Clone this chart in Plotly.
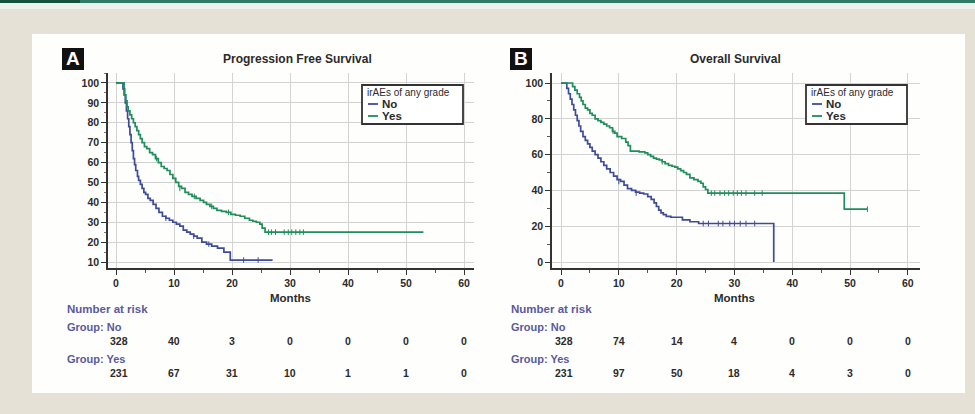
import plotly.graph_objects as go

W, H = 975, 414
def px(x): return x / W
def py(y): return 1 - y / H

# ---------------- data ----------------
month_ticks = [0, 10, 20, 30, 40, 50, 60]

# Progression free survival, irAEs = No
pfs_no_t = [0, 1.2, 1.4, 1.6, 1.8, 2.0, 2.2, 2.4, 2.6, 2.8, 3.0, 3.2, 3.4, 3.7, 3.9, 4.2, 4.5, 4.8,
            5.1, 5.5, 5.9, 6.4, 6.9, 7.4, 8.0, 8.6, 9.2, 9.8, 10.4, 11.0, 11.6, 12.2, 12.8, 13.4,
            14.0, 14.8, 15.6, 16.5, 17.5, 18.6, 19.7, 27.0]
pfs_no_s = [100, 97, 94, 90, 86, 82, 78, 74, 70, 66, 62, 59, 56, 53, 51, 49, 47, 45,
            44, 42, 41, 39, 37, 35, 33, 32, 31, 30, 29, 28, 26, 25, 24, 23,
            22, 20, 19, 18, 17, 15, 11, 11]
# Progression free survival, irAEs = Yes
pfs_yes_t = [0, 1.4, 1.5, 1.7, 1.9, 2.1, 2.4, 2.7, 3.0, 3.3, 3.6, 3.9, 4.2, 4.5, 4.9, 5.3, 5.8,
             6.3, 6.8, 7.3, 7.8, 8.3, 8.8, 9.3, 9.8, 10.3, 10.8, 11.3, 11.9, 12.5, 13.1, 13.8,
             14.5, 15.1, 15.6, 16.2, 16.8, 17.4, 18.2, 19.0, 19.8, 20.6, 21.4, 22.2, 23.0, 23.6,
             24.2, 24.8, 25.2, 25.7, 53.0]
pfs_yes_s = [100, 97, 94, 91, 88, 86, 84, 82, 80, 78, 76, 74, 72, 70, 68, 67, 65,
             64, 62, 60, 58, 57, 56, 54, 52, 50, 48, 47, 45, 44, 43, 42,
             41, 40, 39, 38, 37, 36, 35.5, 35, 34, 33.5, 33, 32, 31, 30.5,
             30, 29, 27, 25, 25]
pfs_no_cens_t = [8.6, 13.4, 16.0, 22.0, 24.5]
pfs_no_cens_s = [32, 23, 19, 11, 11]
pfs_yes_cens_t = [7.0, 11.0, 13.5, 16.5, 19.4, 26.3, 26.8, 27.5, 29.0, 29.7, 30.3, 31.0, 31.7, 32.3]
pfs_yes_cens_s = [62, 47, 43, 38, 35, 25, 25, 25, 25, 25, 25, 25, 25, 25]

# Overall survival, irAEs = No
os_no_t = [0, 1.0, 1.3, 1.6, 1.9, 2.2, 2.5, 2.8, 3.1, 3.4, 3.8, 4.2, 4.6, 5.0, 5.4, 5.9, 6.4,
           6.9, 7.4, 7.9, 8.5, 9.1, 9.7, 10.3, 10.9, 11.5, 12.2, 12.9, 13.6, 14.3, 15.0, 15.6,
           16.1, 16.5, 16.9, 17.3, 17.7, 18.2, 19.0, 21.0, 22.3, 23.8, 36.8]
os_no_s = [100, 97, 94, 91, 88, 85, 82, 79, 76, 73, 70, 68, 66, 64, 62, 60, 58,
           56, 54, 52, 50, 48, 46, 45, 43, 41, 40, 39, 38.5, 38, 36.5, 35,
           33, 31, 29, 27.5, 26.5, 25.5, 25, 23.5, 22.5, 21.5, 0]
# Overall survival, irAEs = Yes
os_yes_t = [0, 2.0, 2.4, 2.8, 3.2, 3.5, 3.8, 4.2, 4.6, 5.0, 5.4, 5.9, 6.4, 6.9, 7.4, 7.9, 8.4,
            8.9, 9.3, 9.7, 10.5, 11.2, 11.6, 12.0, 13.5, 14.5, 15.0, 15.5, 16.0, 16.5, 17.0, 17.5,
            18.0, 18.6, 19.2, 19.7, 20.2, 20.7, 21.2, 21.7, 22.3, 23.0, 23.7, 24.2, 24.6, 25.0,
            25.4, 49.0, 53.0]
os_yes_s = [100, 98, 96, 94, 92, 90, 88, 86, 85, 83, 82, 80, 79, 78, 77, 76, 75,
            73, 72, 70, 69, 67, 65, 62, 61.5, 61, 60, 59, 58, 57.5, 57, 56,
            55, 54, 53.5, 53, 52, 51, 50, 49, 47, 46, 45, 44, 42, 40.5,
            38.5, 29.5, 29.5]
os_no_cens_t = [10.0, 13.0, 24.6, 25.5, 27.2, 28.0, 29.2, 30.0, 31.0, 32.0, 33.5]
os_no_cens_s = [45, 38.5, 21.5, 21.5, 21.5, 21.5, 21.5, 21.5, 21.5, 21.5, 21.5]
os_yes_cens_t = [9.0, 17.5, 26.0, 26.6, 27.5, 28.3, 29.0, 29.8, 30.5, 31.2, 32.0, 33.5, 34.8, 53.0]
os_yes_cens_s = [73, 56, 38.5, 38.5, 38.5, 38.5, 38.5, 38.5, 38.5, 38.5, 38.5, 38.5, 38.5, 29.5]

risk_pfs_no = [328, 40, 3, 0, 0, 0, 0]
risk_pfs_yes = [231, 67, 31, 10, 1, 1, 0]
risk_os_no = [328, 74, 14, 4, 0, 0, 0]
risk_os_yes = [231, 97, 50, 18, 4, 3, 0]

# ---------------- style ----------------
BLUE = '#3e4c98'
GREEN = '#1f8d5c'
FONT = 'Liberation Sans, Arial, sans-serif'
DARK = '#2b2b2b'
PURPLE = '#5a5a9c'

fig = go.Figure()

def curve(t, s, color, xa, ya):
    fig.add_trace(go.Scatter(x=t, y=s, mode='lines', line=dict(shape='hv', color=color, width=1.7),
                             xaxis=xa, yaxis=ya, showlegend=False, hoverinfo='skip'))

def cens(t, s, color, xa, ya):
    fig.add_trace(go.Scatter(x=t, y=s, mode='markers',
                             marker=dict(symbol='line-ns', size=4, line=dict(width=1, color=color)),
                             xaxis=xa, yaxis=ya, showlegend=False, hoverinfo='skip'))

curve(pfs_no_t, pfs_no_s, BLUE, 'x', 'y')
curve(pfs_yes_t, pfs_yes_s, GREEN, 'x', 'y')
cens(pfs_no_cens_t, pfs_no_cens_s, BLUE, 'x', 'y')
cens(pfs_yes_cens_t, pfs_yes_cens_s, GREEN, 'x', 'y')
curve(os_no_t, os_no_s, BLUE, 'x2', 'y2')
curve(os_yes_t, os_yes_s, GREEN, 'x2', 'y2')
cens(os_no_cens_t, os_no_cens_s, BLUE, 'x2', 'y2')
cens(os_yes_cens_t, os_yes_cens_s, GREEN, 'x2', 'y2')

tickfont = dict(family=FONT, size=10.5, color=DARK, weight='bold')
common_x = dict(tickvals=month_ticks, showgrid=True, gridcolor='#d3d3d3', gridwidth=1,
                showline=True, linecolor='#333333', linewidth=1.5, ticks='outside', ticklen=5,
                tickcolor='#333333', tickwidth=1.2, zeroline=False, tickfont=tickfont,
                minor=dict(dtick=5, ticks='outside', ticklen=3, tickcolor='#555555', showgrid=False),
                fixedrange=True)
common_y = dict(showgrid=True, gridcolor='#d3d3d3', gridwidth=1, showline=True, linecolor='#333333',
                linewidth=1.5, ticks='outside', ticklen=5, tickcolor='#333333', tickwidth=1.2,
                zeroline=False, tickfont=tickfont, fixedrange=True)

ydom = [py(268), py(73)]
fig.update_layout(
    width=W, height=H, margin=dict(l=0, r=0, t=0, b=0),
    paper_bgcolor='#e6e1d6', plot_bgcolor='#ffffff',
    xaxis=dict(domain=[px(108), px(474)], range=[-1.38, 61.72], anchor='y', **common_x),
    yaxis=dict(domain=ydom, range=[7, 105], anchor='x', tickvals=list(range(10, 101, 10)),
               minor=dict(dtick=5, ticks='outside', ticklen=2, tickcolor='#777777', showgrid=False),
               **common_y),
    xaxis2=dict(domain=[px(552), px(920)], range=[-1.56, 62.1], anchor='y2', **common_x),
    yaxis2=dict(domain=ydom, range=[-3.35, 105.6], anchor='x2', tickvals=list(range(0, 101, 20)),
                minor=dict(dtick=10, ticks='outside', ticklen=3, tickcolor='#555555', showgrid=False),
                **common_y),
    showlegend=False,
)

shapes = [
    dict(type='rect', xref='paper', yref='paper', x0=0, x1=1, y0=py(9), y1=py(0),
         fillcolor='#eef2ec', line=dict(width=0), layer='below'),
    dict(type='rect', xref='paper', yref='paper', x0=0, x1=1, y0=py(3), y1=py(0),
         fillcolor='#2f7c66', line=dict(width=0), layer='below'),
    dict(type='rect', xref='paper', yref='paper', x0=0, x1=px(80), y0=py(3), y1=py(0),
         fillcolor='#17513f', line=dict(width=0), layer='below'),
    dict(type='rect', xref='paper', yref='paper', x0=px(32), x1=px(965), y0=py(393), y1=py(34),
         fillcolor='#fefefc', line=dict(width=0), layer='below'),
]
annotations = []

def panel(letter, lx, title, tx, legx, xa, risk_no, risk_yes, left):
    # letter box
    shapes.append(dict(type='rect', xref='paper', yref='paper', x0=px(lx), x1=px(lx + 22),
                       y0=py(70), y1=py(48), fillcolor='#111111', line=dict(width=0)))
    annotations.append(dict(text=f'<b>{letter}</b>', x=px(lx + 11), y=py(59), xref='paper', yref='paper',
                            showarrow=False, font=dict(family=FONT, size=19, color='white'),
                            xanchor='center', yanchor='middle'))
    annotations.append(dict(text=f'<b>{title}</b>', x=px(tx), y=py(59), xref='paper', yref='paper',
                            showarrow=False, font=dict(family=FONT, size=12, color=DARK),
                            xanchor='center', yanchor='middle'))
    # legend box
    shapes.append(dict(type='rect', xref='paper', yref='paper', x0=px(legx), x1=px(legx + 101),
                       y0=py(124), y1=py(85), fillcolor='white', line=dict(color='#333333', width=1.8)))
    annotations.append(dict(text='irAEs of any grade', x=px(legx + 3), y=py(92), xref='paper', yref='paper',
                            showarrow=False, font=dict(family=FONT, size=10, color=DARK),
                            xanchor='left', yanchor='middle'))
    for yy, col, lab in [(104, BLUE, 'No'), (116, GREEN, 'Yes')]:
        shapes.append(dict(type='line', xref='paper', yref='paper', x0=px(legx + 6), x1=px(legx + 16),
                           y0=py(yy), y1=py(yy), line=dict(color=col, width=1.8)))
        annotations.append(dict(text=f'<b>{lab}</b>', x=px(legx + 18), y=py(yy), xref='paper', yref='paper',
                                showarrow=False, font=dict(family=FONT, size=11.5, color=DARK),
                                xanchor='left', yanchor='middle'))
    # axis title
    annotations.append(dict(text='<b>Months</b>', x=30, y=py(298), xref=xa, yref='paper', showarrow=False,
                            font=dict(family=FONT, size=11.5, color=DARK), xanchor='center', yanchor='middle'))
    # risk table
    annotations.append(dict(text='<b>Number at risk</b>', x=px(left), y=py(309), xref='paper', yref='paper',
                            showarrow=False, font=dict(family=FONT, size=11.5, color=PURPLE),
                            xanchor='left', yanchor='middle'))
    for gy, ny, lab, vals in [(327, 341, 'No', risk_no), (359, 373, 'Yes', risk_yes)]:
        annotations.append(dict(text=f'<b>Group: {lab}</b>', x=px(left), y=py(gy), xref='paper', yref='paper',
                                showarrow=False, font=dict(family=FONT, size=11, color=PURPLE),
                                xanchor='left', yanchor='middle'))
        for i, (m, v) in enumerate(zip(month_ticks, vals)):
            annotations.append(dict(text=f'<b>{v}</b>', x=m, y=py(ny), xref=xa, yref='paper',
                                    showarrow=False, font=dict(family=FONT, size=10.5, color=DARK),
                                    xanchor='center', yanchor='middle', xshift=3 if i == 0 else 0))

panel('A', 62, 'Progression Free Survival', 297, 362, 'x', risk_pfs_no, risk_pfs_yes, 65)
panel('B', 510, 'Overall Survival', 735, 806, 'x2', risk_os_no, risk_os_yes, 509)

fig.update_layout(shapes=shapes, annotations=annotations)
fig.write_html('out.html', config={'displayModeBar': False},
               post_script="document.body.style.margin='0px';document.body.style.overflow='hidden';")
